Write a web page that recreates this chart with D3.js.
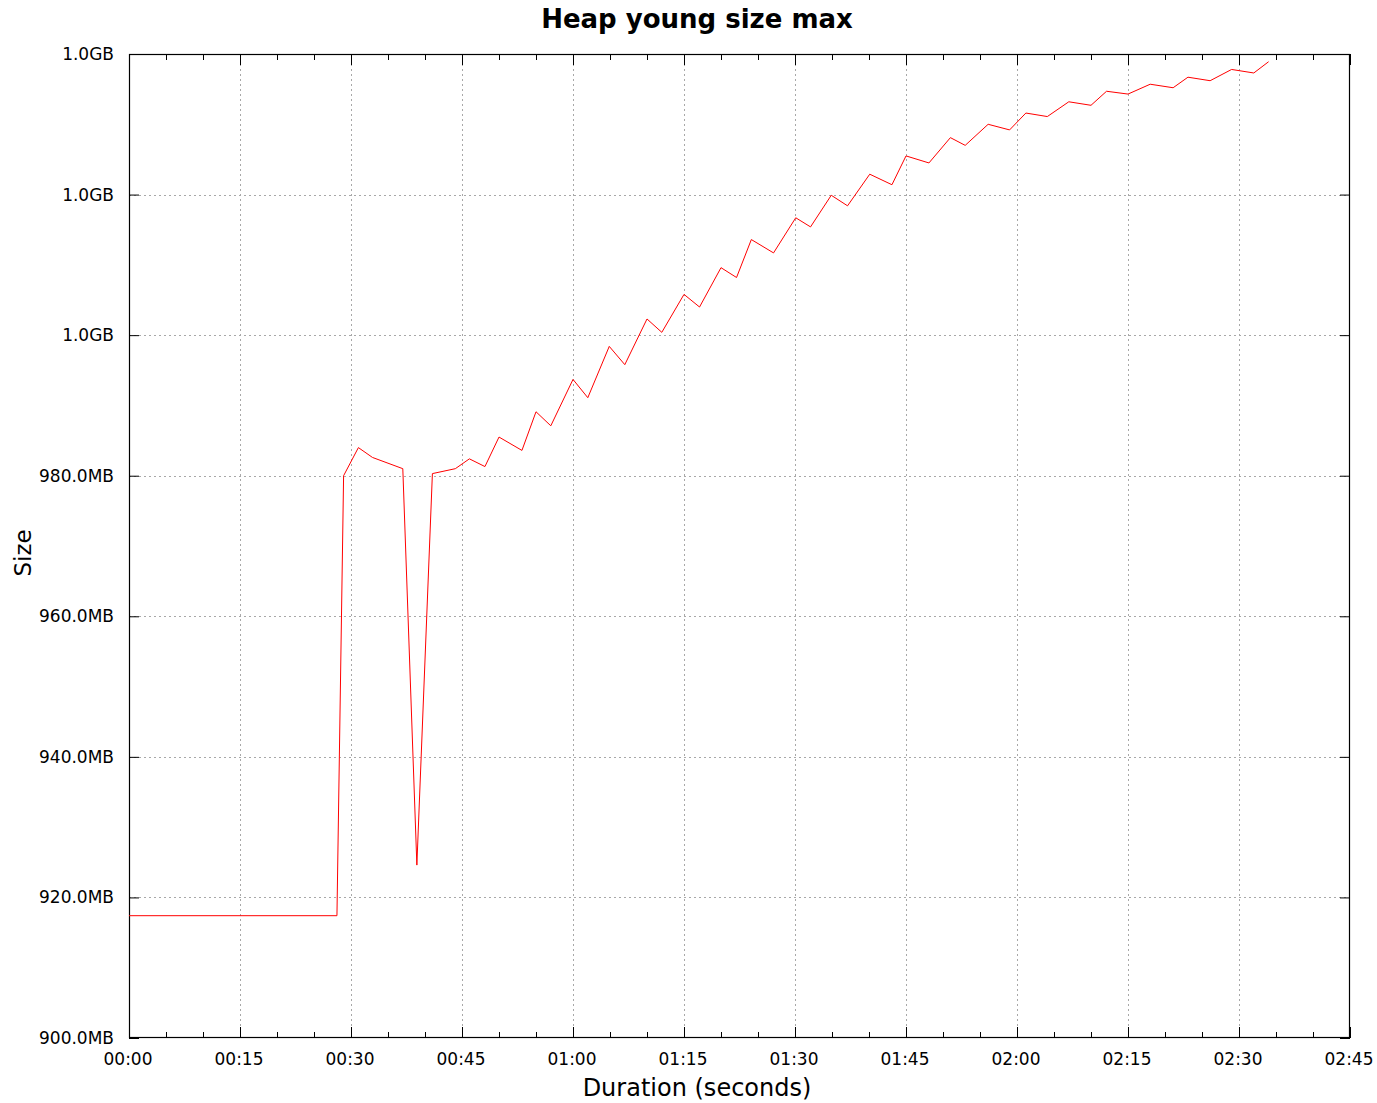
<!DOCTYPE html>
<html>
<head>
<meta charset="utf-8">
<script src="https://cdn.jsdelivr.net/npm/d3@7"></script>
<style>
  html, body { margin: 0; padding: 0; background: #fff; }
  svg { display: block; font-family: "DejaVu Sans", sans-serif; }
</style>
</head>
<body>
<svg id="chart" width="1377" height="1103"></svg>
<script>
// Time in seconds
const times = [0, 28.1, 29, 31, 32.9, 37, 38.9, 41, 44.1, 46, 48.1, 50, 53.1, 55, 57, 60, 62, 64.9, 67, 70, 72, 75, 77.1, 80, 82.1, 84.1, 87.1, 90.1, 92.1, 94.9, 97.1, 100.1, 103.1, 105, 108.1, 111, 113, 116.1, 119, 121.2, 124.1, 127, 130, 132.1, 135, 138, 141.1, 143.1, 146.1, 149, 152, 154];
// Heap young size max, in MB
const sizes = [917.4, 917.4, 980.0, 984.0, 982.6, 981.0, 924.6, 980.3, 981.0, 982.4, 981.3, 985.5, 983.6, 989.1, 987.1, 993.7, 991.1, 998.4, 995.8, 1002.3, 1000.4, 1005.8, 1004.0, 1009.6, 1008.2, 1013.6, 1011.7, 1016.7, 1015.4, 1019.9, 1018.4, 1022.9, 1021.4, 1025.5, 1024.5, 1028.1, 1027.0, 1030.0, 1029.2, 1031.6, 1031.1, 1033.2, 1032.7, 1034.7, 1034.3, 1035.7, 1035.2, 1036.7, 1036.2, 1037.8, 1037.3, 1038.9];

const xTickValues = [0, 15, 30, 45, 60, 75, 90, 105, 120, 135, 150, 165];
const xTickLabels = ["00:00", "00:15", "00:30", "00:45", "01:00", "01:15", "01:30", "01:45", "02:00", "02:15", "02:30", "02:45"];
const xMinorTickValues = [5, 10, 20, 25, 35, 40, 50, 55, 65, 70, 80, 85, 95, 100, 110, 115, 125, 130, 140, 145, 155, 160];
const yTickValues = [900, 920, 940, 960, 980, 1000, 1020, 1040];
const yTickLabels = ["900.0MB", "920.0MB", "940.0MB", "960.0MB", "980.0MB", "1.0GB", "1.0GB", "1.0GB"];

const titleText = "Heap young size max";
const xLabelText = "Duration (seconds)";
const yLabelText = "Size";

(function () {
const svg = d3.select("#chart");
const pl = 129, pr = 1350, pt = 54, pb = 1038;

const x = d3.scaleLinear().domain([0, 165]).range([pl, pr]);
const y = d3.scaleLinear().domain([900, 1040]).range([pb, pt]);

// Grid
const grid = svg.append("g").attr("stroke", "#a8a8a8").attr("stroke-width", 1).attr("stroke-dasharray", "2,3");
xTickValues.slice(1, -1).forEach(v => {
  grid.append("line").attr("x1", Math.round(x(v)) + 0.5).attr("x2", Math.round(x(v)) + 0.5)
    .attr("y1", pt).attr("y2", pb);
});
yTickValues.slice(1, -1).forEach(v => {
  grid.append("line").attr("y1", Math.round(y(v)) + 0.5).attr("y2", Math.round(y(v)) + 0.5)
    .attr("x1", pl).attr("x2", pr);
});

const fmtX = (d) => xTickLabels[xTickValues.indexOf(d)];
const fmtY = (d) => yTickLabels[yTickValues.indexOf(d)];

const xAxisB = d3.axisBottom(x).tickValues(xTickValues).tickFormat(fmtX).tickSizeInner(-11).tickSizeOuter(0).tickPadding(15);
const gxb = svg.append("g").attr("transform", `translate(0,${pb})`).call(xAxisB);
gxb.select(".domain").remove();
gxb.selectAll("text").attr("font-size", 17).attr("font-family", "DejaVu Sans").attr("fill", "#000").attr("dx", -1.5);

const xMinB = d3.axisBottom(x).tickValues(xMinorTickValues).tickFormat("").tickSizeInner(-6).tickSizeOuter(0);
svg.append("g").attr("transform", `translate(0,${pb})`).call(xMinB).call(g => g.select(".domain").remove());

const xAxisT = d3.axisTop(x).tickValues(xTickValues).tickFormat("").tickSizeInner(-11).tickSizeOuter(0);
svg.append("g").attr("transform", `translate(0,${pt})`).call(xAxisT).call(g => g.select(".domain").remove());
const xMinT = d3.axisTop(x).tickValues(xMinorTickValues).tickFormat("").tickSizeInner(-6).tickSizeOuter(0);
svg.append("g").attr("transform", `translate(0,${pt})`).call(xMinT).call(g => g.select(".domain").remove());

const yAxisL = d3.axisLeft(y).tickValues(yTickValues).tickFormat(fmtY).tickSizeInner(-10).tickSizeOuter(0).tickPadding(15);
const gyl = svg.append("g").attr("transform", `translate(${pl},0)`).call(yAxisL);
gyl.select(".domain").remove();
gyl.selectAll("text").attr("font-size", 17).attr("font-family", "DejaVu Sans").attr("fill", "#000");

const yAxisR = d3.axisRight(y).tickValues(yTickValues).tickFormat("").tickSizeInner(-10).tickSizeOuter(0);
svg.append("g").attr("transform", `translate(${pr},0)`).call(yAxisR).call(g => g.select(".domain").remove());

svg.selectAll(".tick line").attr("stroke", "#000");

// Frame
svg.append("rect").attr("x", pl + 0.5).attr("y", pt + 0.5)
  .attr("width", pr - pl - 1).attr("height", pb - pt - 1)
  .attr("fill", "none").attr("stroke", "#000").attr("stroke-width", 1.2);

// Data line
const line = d3.line().x((d, i) => x(times[i])).y((d, i) => y(sizes[i]));
svg.append("path").datum(sizes).attr("d", line)
  .attr("fill", "none").attr("stroke", "#ff0000").attr("stroke-width", 1);

// Title and labels
svg.append("text").attr("x", 697).attr("y", 28).attr("text-anchor", "middle")
  .attr("font-size", 26).attr("font-weight", "bold").attr("font-family", "DejaVu Sans").text(titleText);
svg.append("text").attr("x", 697).attr("y", 1096).attr("text-anchor", "middle")
  .attr("font-size", 24).attr("font-family", "DejaVu Sans").text(xLabelText);
svg.append("text").attr("transform", "translate(31,553) rotate(-90)").attr("text-anchor", "middle")
  .attr("font-size", 23).attr("font-family", "DejaVu Sans").text(yLabelText);
})();
</script>
</body>
</html>
